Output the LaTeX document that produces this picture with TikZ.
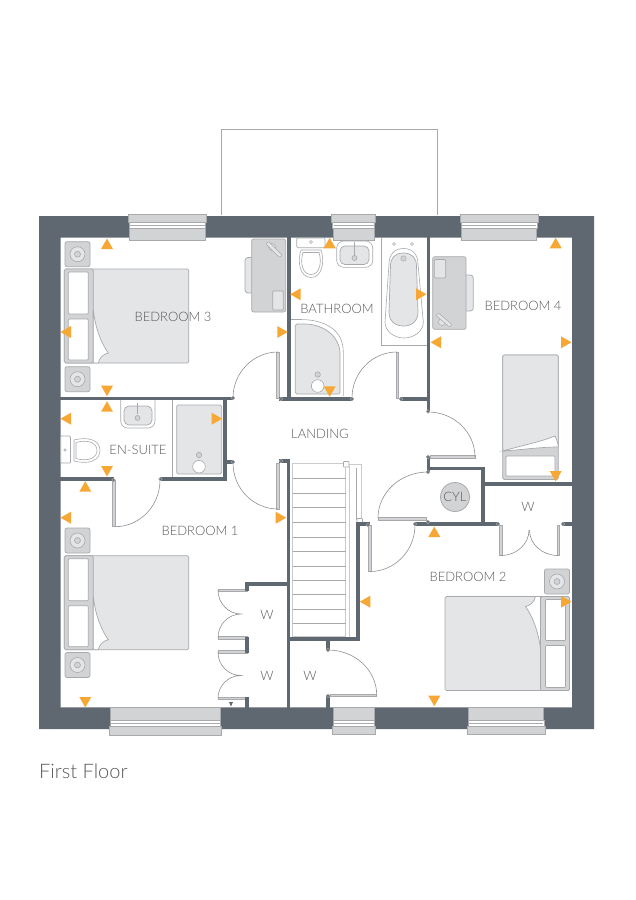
\documentclass[tikz,border=0pt]{standalone}
\usepackage{fontspec}
\setmainfont{Lato Light}
\definecolor{wallc}{HTML}{5F6870}
\definecolor{fixl}{HTML}{A7A9AC}
\definecolor{fixf}{HTML}{D1D3D4}
\definecolor{bedf}{HTML}{E4E5E7}
\definecolor{orng}{HTML}{F7A733}
\definecolor{txt}{HTML}{58595B}
\tikzset{
  wall/.style={draw=wallc,line width=3.2pt,line cap=rect,line join=miter},
  mass/.style={fill=wallc,draw=none},
  fx/.style={draw=fixl,fill=fixf,line width=.7pt},
  fw/.style={draw=fixl,fill=white,line width=.7pt},
  fb/.style={draw=fixl,fill=bedf,line width=.7pt},
  thin line/.style={draw=fixl,line width=.6pt},
  swing/.style={draw=fixl!85!black,line width=.6pt},
  leaf/.style={draw=fixl,fill=fixf,line width=.5pt},
  lbl/.style={text=txt,font=\fontsize{13}{15}\selectfont,inner sep=0pt},
  tri/.style={fill=orng,draw=none},
  hinge/.style={draw=fixl,fill=wallc,line width=.5pt}
}
% quarter-circle swing: centre, start, end
\newcommand{\qarc}[6]{(#3,#4) .. controls ({#3+.5523*(#5-#1)},{#4+.5523*(#6-#2)}) and ({#5+.5523*(#3-#1)},{#6+.5523*(#4-#2)}) .. (#5,#6)}
\newcommand{\triU}[2]{\fill[tri] (#1,#2-5.5) -- (#1+6,#2+5) -- (#1-6,#2+5) -- cycle;}
\newcommand{\triD}[2]{\fill[tri] (#1,#2+5.5) -- (#1+6,#2-5) -- (#1-6,#2-5) -- cycle;}
\newcommand{\triL}[2]{\fill[tri] (#1-5.5,#2) -- (#1+5,#2-6) -- (#1+5,#2+6) -- cycle;}
\newcommand{\triR}[2]{\fill[tri] (#1+5.5,#2) -- (#1-5,#2-6) -- (#1-5,#2+6) -- cycle;}
\newcommand{\dblbed}{%
  \path[fb,rounded corners=1.5pt] (0,0) rectangle (124.5,94);
  \path[fx,rounded corners=1.5pt] (0,0) -- (29,0) -- (29,94) -- (0,94) -- cycle;
  \path[fw,rounded corners=1pt] (4,3) rectangle (24,45);
  \path[fw,rounded corners=1pt] (4,50) rectangle (24,91);
  \path[fw] (29,41) .. controls (31,60) and (38,76) .. (44,84) .. controls (39,85) and (35,89) .. (34,94) -- (29,94) -- cycle;
}
\newcommand{\sidetable}[2]{%
  \path[fx,rounded corners=2pt] (#1,#2) rectangle (#1+25,#2+25);
  \path[draw=fixl,fill=bedf,line width=.6pt] (#1+12.5,#2+12.5) circle (7.5);
  \path[draw=fixl,fill=fixf,line width=.6pt] (#1+12.5,#2+12.5) circle (3);
}
\newcommand{\hpt}[2]{\path[hinge] (#1,#2) circle (1.8);}
\newcommand{\window}[5]{%
  \path[fx] (#1,#3) rectangle (#2,#4);
  \path[fw] (#1+1,#4) rectangle (#2-1,#4+6.5);
  \draw[thin line] (#1+2,#4+3) -- (#2-2,#4+3);
  \path[fx] (#1+1.5,#4+6.5) rectangle (#2-1.5,#5);
}
\newcommand{\windowB}[5]{%
  \path[fx] (#1+1.5,#3) rectangle (#2-1.5,#4);
  \path[fw] (#1+1,#4) rectangle (#2-1,#4+6.5);
  \draw[thin line] (#1+2,#4+3) -- (#2-2,#4+3);
  \path[fx] (#1,#4+6.5) rectangle (#2,#5);
}
\begin{document}
\begin{tikzpicture}[x=1pt,y=-1pt]
\useasboundingbox (0,0) rectangle (636,900);
% balcony outline
\draw[thin line] (221,215) -- (221,129) -- (437,129) -- (437,215);
% outer walls
\path[mass,even odd rule] (39,216) rectangle (594,729) (60.5,237.7) rectangle (572,707.3);
% windows
\window{128.3}{206.7}{214}{222}{240.7}
\window{331.7}{375.7}{214}{222}{240.7}
\window{460}{538}{214}{222}{240.7}
\windowB{109.3}{221.7}{707.3}{720}{735}
\windowB{332.3}{375.7}{707}{720}{734}
\windowB{467.3}{545}{707}{720}{734}
% fixtures: beds
\begin{scope}[shift={(64.3,269)}]\dblbed\end{scope}
\begin{scope}[shift={(64.3,555.7)}]\dblbed\end{scope}
\begin{scope}[shift={(569.5,690.5)},xscale=-1,yscale=-1]\dblbed\end{scope}
\sidetable{65}{241.7}
\sidetable{65}{366.7}
\sidetable{65}{528}
\sidetable{65}{652.5}
\sidetable{544.5}{569}
% single bed
\path[fx,rounded corners=1.5pt] (502.7,355) rectangle (558.3,479.5);
\path[fb,rounded corners=1.5pt] (502.7,355) -- (558.3,355) -- (558.3,447) -- (555,441) .. controls (540,446) and (520,449) .. (502.7,451) -- cycle;
\path[fw] (555,436) .. controls (540,442) and (520,446) .. (502.7,451) .. controls (520,450) and (540,447) .. (558.3,447) .. controls (558,442) and (556,438) .. (555,436) -- cycle;
\path[fw,rounded corners=1pt] (506,456) rectangle (555,476);
% desks
\path[fb,rounded corners=3pt] (245,257.5) rectangle (255,293);
\path[fx,rounded corners=2pt] (251.7,239) rectangle (285.7,312);
\path[fb,rounded corners=1pt] (272.7,291) rectangle (283.3,310);
\path[draw=fixl,fill=bedf,line width=.5pt] (272,247) circle (3.5);
\path[draw=fixl,fill=bedf,line width=.5pt,rounded corners=1pt] (266,244) -- (268.5,241.5) -- (282,255) -- (279.5,257.5) -- cycle;
\path[fb,rounded corners=3pt] (463,275) rectangle (473.3,311);
\path[fx,rounded corners=2pt] (432.7,256.7) rectangle (466,329.3);
\path[fb,rounded corners=1pt] (434.3,259.5) rectangle (445.7,278);
\path[draw=fixl,fill=bedf,line width=.5pt] (442,322) circle (3.5);
\path[draw=fixl,fill=bedf,line width=.5pt,rounded corners=1pt] (436,315.5) -- (438.5,313) -- (452,324.5) -- (449.5,327) -- cycle;
% en-suite basin
\path[draw=fixl,line width=.6pt,rounded corners=7pt] (120.7,400) -- (120.7,428) -- (155,428) -- (155,400);
\path[fb,rounded corners=5pt] (124,406) rectangle (152,425);
\draw[fixl,line width=.9pt] (137.5,403) -- (137.5,414);
\path[draw=fixl,line width=.6pt,fill=fixf] (137.5,418) circle (2.5);
% en-suite shower
\draw[thin line] (172.7,400) -- (172.7,478);
\path[fb,rounded corners=1.5pt] (176.7,405) rectangle (221.7,474);
\path[draw=fixl,line width=.6pt,fill=white] (199,466.7) circle (6.3);
\path[draw=fixl,line width=.6pt,fill=fixf] (199,455) circle (2.7);
% en-suite WC
\path[fw,rounded corners=1pt] (60.7,436) rectangle (70.5,463);
\path[draw=fixl,fill=white,line width=.6pt] (74,440) .. controls (90,436) and (100,441) .. (100,450.5) .. controls (100,460) and (90,465) .. (74,461) -- cycle;
\path[draw=fixl,fill=white,line width=.6pt] (76,442.5) .. controls (88,439) and (97,443) .. (97,450.5) .. controls (97,458) and (88,462) .. (76,458.5) -- cycle;
\path[draw=fixl,fill=white,line width=.5pt] (65,450) circle (1.3);
% bathroom WC
\path[fw,rounded corners=1pt] (296.7,238) rectangle (325,247.7);
\path[draw=fixl,fill=white,line width=.5pt] (311,242) circle (1.5);
\path[draw=fixl,fill=white,line width=.6pt] (301,250) .. controls (297,262) and (300,277.5) .. (311,277.5) .. controls (322,277.5) and (325,262) .. (321,250) -- cycle;
\path[draw=fixl,fill=white,line width=.6pt] (303,252.5) .. controls (300,262) and (302,274.5) .. (311,274.5) .. controls (320,274.5) and (322,262) .. (319,252.5) -- cycle;
% bathroom basin
\path[draw=fixl,line width=.6pt,fill=white,rounded corners=7pt] (336.7,241) -- (336.7,267.3) -- (372.7,267.3) -- (372.7,241) -- cycle;
\path[fb,rounded corners=5pt] (340,246) rectangle (369,264.5);
\draw[fixl,line width=.9pt] (354.5,242) -- (354.5,256);
\path[draw=fixl,line width=.6pt,fill=fixf] (354.5,258) circle (2.5);
% bath
\draw[thin line] (381.7,238) -- (381.7,345.7) -- (428,345.7);
\path[draw=fixl,fill=white,line width=.6pt] (389,264) .. controls (389,254) and (395,248.5) .. (403.5,248.5) .. controls (412,248.5) and (418,254) .. (418,264) -- (423.3,322) .. controls (423.3,332) and (413,338) .. (404,338) .. controls (395,338) and (385,332) .. (385,322) -- cycle;
\path[fb] (390.5,266) .. controls (390.5,258) and (395,253) .. (403.5,253) .. controls (412,253) and (416.5,258) .. (416.5,266) -- (418,312) .. controls (418,321) and (412,326) .. (403.5,326) .. controls (395,326) and (389,321) .. (389,312) -- cycle;
\path[draw=fixl,line width=.5pt,fill=white] (394,244) circle (1.5);
\path[draw=fixl,line width=.5pt,fill=white] (412,244) circle (1.5);
\path[draw=fixl,line width=.5pt,fill=fixf] (403.5,258.5) circle (2.7);
% bathroom shower
\draw[thin line] (291,319.5) -- (300,319.5) .. controls (325,319.5) and (343.3,330) .. (343.3,352) -- (343.3,396);
\path[fb,rounded corners=1.5pt] (295.3,324) -- (305,324) .. controls (326,325) and (340,338) .. (340,355) -- (340,394) -- (295.3,394) -- cycle;
\path[draw=fixl,line width=.6pt,fill=white] (317.7,386) circle (6.3);
\path[draw=fixl,line width=.6pt,fill=fixf] (317.7,374.5) circle (2.7);
% stairs
\path[draw=fixl!60,fill=white,line width=.7pt] (292.7,463) rectangle (345.7,636.7);
\foreach \ty in {478,493,507,522,537,551,566,580,594,609,623}{\draw[draw=fixl,line width=.6pt] (292.7,\ty) -- (345.7,\ty);}
\draw[draw=fixl!60,line width=.7pt] (345.7,464) -- (361,464) -- (361,520);
\draw[draw=fixl!60,line width=.7pt] (349,466) -- (349,636.7);
\draw[draw=fixl,line width=.6pt] (356.7,468) -- (356.7,520);
\path[draw=fixl,fill=white,line width=.6pt,rounded corners=.5pt] (343.5,461.5) rectangle (349,467);
\path[draw=fixl,fill=white,line width=.6pt,rounded corners=.5pt] (357,518.5) rectangle (362.5,524);
% door leaves
\path[leaf] (276.7,352) rectangle (279.3,398);
\path[leaf] (396,352) rectangle (398.6,398);
\path[leaf] (112.3,480) rectangle (115,526.7);
\path[leaf] (276.7,463) rectangle (279.3,509);
\path[leaf] (430,455.5) rectangle (475,458.3);
\path[leaf] (378,517.7) rectangle (426,520.3);
\path[leaf] (368.7,525) rectangle (371.3,571.5);
\path[leaf] (330,694) rectangle (376.7,696.7);
\path[leaf] (499.5,525) rectangle (502,555.5);
\path[leaf] (557,525) rectangle (559.5,555.5);
\path[leaf] (218,589) rectangle (247,591.3);
\path[leaf] (218,636.5) rectangle (247,639);
\path[leaf] (218,650.5) rectangle (247,653);
\path[leaf] (218,697) rectangle (247,699.3);
% door swings
\draw[swing] \qarc{278}{398}{278}{352}{233}{398};
\draw[swing] \qarc{397}{398}{397}{352}{352}{398};
\draw[swing] \qarc{115}{480}{115}{526.7}{160}{480};
\draw[swing] \qarc{278}{463}{278}{509}{233}{463};
\draw[swing] \qarc{428}{457}{428}{412}{475}{457};
\draw[swing] \qarc{428}{518}{428}{472}{378}{518};
\draw[swing] \qarc{370}{525}{370}{571.5}{415}{525};
\draw[swing] \qarc{328}{695}{328}{650}{376.7}{695};
\draw[swing] \qarc{501}{530}{501}{555.5}{529}{530};
\draw[swing] \qarc{558}{530}{558}{555.5}{529.5}{530};
\draw[swing] (218,590) .. controls (218,603) and (228,614) .. (241,614) .. controls (228,614) and (218,625) .. (218,637.5);
\draw[swing] (218,652) .. controls (218,665) and (228,675.5) .. (241,675.5) .. controls (228,675.5) and (218,686) .. (218,698);
% interior walls
\draw[wall] (60.5,398.3) -- (231,398.3);
\draw[wall] (225,398.3) -- (225,479);
\draw[wall] (225,462) -- (231,462);
\draw[wall] (60.5,479) -- (112,479);
\draw[wall] (162,479) -- (225,479);
\draw[wall] (289,238) -- (289,398.7);
\draw[wall] (281,399) -- (350,399);
\draw[wall] (402,399) -- (428.3,399);
\draw[wall] (428.3,238) -- (428.3,410);
\draw[wall] (428.3,458) -- (428.3,470);
\draw[wall] (428.3,468.3) -- (483,468.3) -- (483,524);
\draw[wall] (483,484) -- (572,484);
\draw[wall] (417,524) -- (497,524);
\draw[wall] (564,524) -- (572,524);
\draw[wall] (368,524) -- (358,524) -- (358,639) -- (289,639);
\draw[wall] (288.5,461) -- (288.5,707);
\draw[wall] (281,461) -- (288.5,461);
\draw[wall] (288.5,584) -- (247,584) -- (247,589);
\draw[wall] (247,639) -- (247,651);
\draw[wall] (247,699) -- (247,707);
\draw[wall] (328,641) -- (328,648);
\draw[wall] (328,697) -- (328,707);
% hinges
\hpt{233}{398}\hpt{281}{399}\hpt{352}{399}\hpt{401}{399}
\hpt{428}{411.5}\hpt{428}{457}\hpt{428}{472}\hpt{415}{524}\hpt{428}{522}
\hpt{233}{462}\hpt{113.5}{480}\hpt{160.5}{479}\hpt{281}{461}
\hpt{368}{525}\hpt{328}{650}\hpt{328}{696}\hpt{498}{524}\hpt{563}{524}
% wardrobe marker
\fill[wallc] (229,702) -- (233,702) -- (231,706.5) -- cycle;
% cylinder
\node[circle,draw=fixl,fill=fixf,line width=.8pt,minimum size=29pt,inner sep=0pt,text=txt,font=\fontsize{13}{15}\selectfont] (cyl) at (455,497) {CYL};
% labels
\node[lbl] (bed3) at (173,317) {BEDROOM 3};
\node[lbl] (ens) at (138,450) {EN-SUITE};
\node[lbl] (bath) at (337,309) {BATHROOM};
\node[lbl] (bed4) at (523,306) {BEDROOM 4};
\node[lbl] (land) at (320,434) {LANDING};
\node[lbl] (bed1) at (200,531) {BEDROOM 1};
\node[lbl] (bed2) at (468,577) {BEDROOM 2};
\node[lbl] (wa) at (267,615) {W};
\node[lbl] (wb) at (267,676) {W};
\node[lbl] (wc) at (310,676) {W};
\node[lbl] (wd) at (528,507) {W};
\node[text=txt,inner sep=0pt,anchor=west,font=\fontsize{20}{24}\selectfont] (title) at (39,771) {First Floor};
% orange markers
\triU{107}{244}\triL{66}{332}\triD{107}{390.7}\triU{107}{406.7}\triL{66}{418.7}\triR{216.7}{418.7}\triD{107}{471}\triR{282.3}{332}\triL{295.7}{294.3}
\triU{329.7}{243.3}\triR{421}{294.3}\triD{329.7}{391.3}\triL{436}{342.3}\triU{555.7}{243.3}\triR{566}{342.3}\triD{555.7}{476}
\triU{85.3}{486.7}\triL{66}{517.7}\triR{280.7}{517.7}\triD{85.3}{702}
\triU{434.3}{532}\triL{365.3}{601.7}\triR{566}{601.7}\triD{434.3}{700.7}
\end{tikzpicture}
\end{document}
